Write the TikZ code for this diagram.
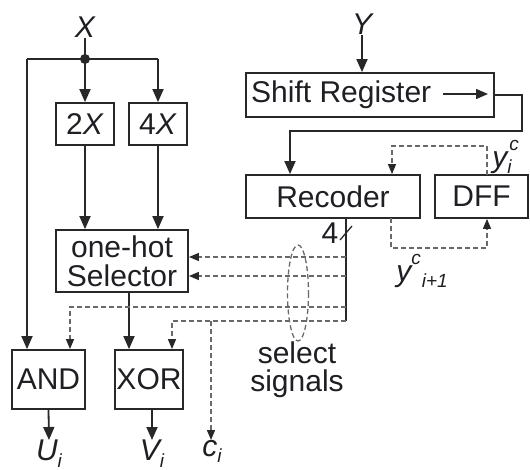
\documentclass[tikz,border=0pt]{standalone}
\usepackage{fontspec}
\setmainfont{Liberation Sans}
\usetikzlibrary{arrows.meta,calc}
\definecolor{ln}{RGB}{40,40,40}
\definecolor{dl}{RGB}{105,105,105}
\definecolor{tx}{RGB}{30,30,35}
\newcommand{\mysub}[1]{\raisebox{-0.22em}{\fontsize{19}{19}\selectfont #1}}
\newcommand{\mysup}[1]{\raisebox{0.55em}{\fontsize{19}{19}\selectfont #1}}
\newcommand{\mysupsub}[2]{\makebox[0pt][l]{\hspace{2pt}\mysup{#1}}\mysub{#2}}
\begin{document}
\begin{tikzpicture}[x=1pt,y=-1pt,
  box/.style={draw=ln, line width=1.8pt, inner sep=0pt, font=\fontsize{30}{30}\selectfont, text=tx, align=center},
  wire/.style={draw=ln, line width=1.8pt},
  arr/.style={wire, -{Triangle[length=13pt,width=11pt]}},
  dwire/.style={draw=dl, line width=1.3pt, dash pattern=on 5pt off 3pt},
  darr/.style={dwire, -{Triangle[length=10pt,width=8pt,color=ln]}},
  lbl/.style={font=\fontsize{30}{30}\selectfont\itshape, text=tx, inner sep=0pt},
  txt/.style={font=\fontsize{30}{30}\selectfont, text=tx, inner sep=0pt},
]
\useasboundingbox (0,0) rectangle (530,470);

% boxes
\node[box, minimum width=58, minimum height=42] (b2) at (85,124) {2\textit{X}};
\node[box, minimum width=58, minimum height=42] (b4) at (158,124) {4\textit{X}};
\node[box, minimum width=132, minimum height=62, font=\fontsize{30}{29}\selectfont] (sel) at (122,261) {one-hot\\Selector};
\node[box, minimum width=73, minimum height=59] (and) at (48.5,379.5) {AND};
\node[box, minimum width=68, minimum height=59] (xor) at (149,379.5) {XOR};
\node[box, minimum width=248, minimum height=44] (sr) at (370,95) {};
\node[txt, anchor=west] (srt) at (251,95) {Shift Register};
\node[box, minimum width=174, minimum height=43] (rec) at (333,196.5) {Recoder};
\node[box, minimum width=93, minimum height=43] (dff) at (481.5,196.5) {DFF};

% labels
\node[lbl] (X) at (85,27) {X};
\node[lbl] (Y) at (362,24) {Y};
\node[lbl, anchor=north] (U) at (49,440) {U\mysub{i}};
\node[lbl, anchor=north] (V) at (152,440) {V\mysub{i}};
\node[lbl, anchor=north] (ci) at (212,440) {c\mysub{i}};
\node[lbl] (yic) at (502,157) {y\mysupsub{c}{i}\hspace{8pt}};
\node[lbl] (yi1) at (422,271) {y\mysup{c}\mysub{\hspace{1pt}i+1}};
\node[txt] (four) at (330,233) {4};
\node[txt, align=center, font=\fontsize{30}{28}\selectfont] (selsig) at (297,370) {select\\signals};

% X distribution
\coordinate (J) at (85,59);
\coordinate (L) at (27,59);
\coordinate (R) at (158,59);
\draw[wire] (X.south) -- (J);
\draw[wire] (L) -- (R);
\fill[ln] (J) circle (5);
\draw[arr] (L) -- (L |- and.north);
\draw[arr] (J) -- (b2.north);
\draw[arr] (R) -- (b4.north);
\draw[arr] (b2.south) -- (b2.south |- sel.north);
\draw[arr] (b4.south) -- (b4.south |- sel.north);
\coordinate (s1) at (129,292);
\draw[arr] (s1) -- (s1 |- xor.north);
\draw[arr] (and.south) -- (U.north);
\draw[arr] (xor.south -| V.north) -- (V.north);

% Y path
\draw[arr] (Y.south) -- (Y.south |- sr.north);
\coordinate (ia) at (443,94);
\coordinate (ib) at (488,94);
\draw[draw=ln, line width=1.4pt, -{Triangle[length=12pt,width=10pt]}] (ia) -- (ib);
\coordinate (c1) at (522,95);
\coordinate (c2) at (522,131);
\coordinate (c3) at (290,131);
\draw[arr] (sr.east) -- (c1) -- (c2) -- (c3) -- (c3 |- rec.north);

% DFF feedback
\coordinate (d1) at (487,175);
\coordinate (d2) at (487,146);
\coordinate (d3) at (392,146);
\draw[darr] (d1) -- (d2) -- (d3) -- (d3 |- rec.north);
\coordinate (e1) at (391,218);
\coordinate (e2) at (391,248);
\coordinate (e3) at (487,248);
\draw[darr] (e1) -- (e2) -- (e3) -- (e3 |- dff.south);

% select signals bus
\coordinate (rb) at (346,218);
\coordinate (rt) at (346,321);
\draw[wire] (rb) -- (rt);
\coordinate (sl1) at (340,240);
\coordinate (sl2) at (352,226);
\draw[draw=ln, line width=1.3pt] (sl1) -- (sl2);
\coordinate (g1) at (346,257);
\coordinate (g2) at (346,276);
\draw[darr] (g1) -- (g1 -| sel.east);
\draw[darr] (g2) -- (g2 -| sel.east);
\coordinate (a1) at (346,307);
\coordinate (a2) at (70,307);
\draw[darr] (a1) -- (a2) -- (a2 |- and.north);
\coordinate (x2) at (172,321);
\draw[darr] (rt) -- (x2) -- (x2 |- xor.north);
\coordinate (cb) at (211,321);
\draw[darr] (cb) -- (cb |- ci.north);
\draw[dwire] (298,293) ellipse [x radius=10.5, y radius=48];
\end{tikzpicture}
\end{document}
